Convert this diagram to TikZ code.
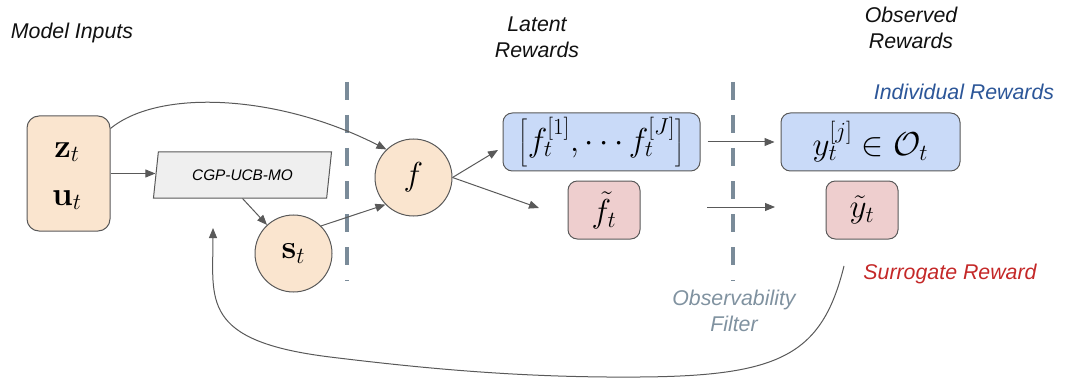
\documentclass[tikz,border=0pt]{standalone}
\usepackage[no-math]{fontspec}
\newfontfamily\arialfont{Liberation Sans}
\usetikzlibrary{arrows.meta,shapes.geometric}

\tikzset{
  boxline/.style={draw={rgb, 255:red, 89; green, 89; blue, 89 }, line width=0.75pt},
  inputbox/.style={boxline, fill={rgb, 255:red, 250; green, 229; blue, 207 }, rounded corners=9pt, minimum width=62.25pt, minimum height=86.25pt},
  vecbox/.style={boxline, fill={rgb, 255:red, 201; green, 218; blue, 248 }, rounded corners=7pt, minimum height=43.5pt, inner sep=0pt},
  tildebox/.style={boxline, fill={rgb, 255:red, 238; green, 206; blue, 206 }, rounded corners=7pt, minimum width=54pt, minimum height=43.5pt, inner sep=0pt},
  statecircle/.style={boxline, circle, fill={rgb, 255:red, 250; green, 229; blue, 207 }, minimum size=57.75pt, inner sep=0pt},
  policybox/.style={boxline, fill={rgb, 255:red, 239; green, 239; blue, 239 }, trapezium, trapezium left angle=75, trapezium right angle=105, trapezium stretches=true, minimum width=134pt, minimum height=34.5pt, inner sep=0pt, font=\arialfont\itshape\fontsize{11.5}{14}\selectfont},
  flow/.style={draw={rgb, 255:red, 89; green, 89; blue, 89 }, line width=0.75pt, -{Triangle[length=7.5pt,width=6pt]}},
  filterline/.style={draw={rgb, 255:red, 122; green, 139; blue, 153 }, line width=3pt, dash pattern=on 13.5pt off 11.25pt},
  headtext/.style={font=\arialfont\itshape\fontsize{16}{19.5}\selectfont, align=center, text={rgb, 255:red, 17; green, 17; blue, 17 }},
  mathtext/.style={font=\fontsize{25}{30}\selectfont}
}

\begin{document}
\begin{tikzpicture}[x=0.75pt,y=0.75pt,yscale=-1,xscale=1]
\useasboundingbox (0,0) rectangle (1065,378);

%Column titles
\node[headtext, anchor=base] (inputslabel) at (72,39) {Model Inputs};
\node[headtext] (latentlabel) at (537,37) {Latent\\Rewards};
\node[headtext] (observedlabel) at (911,28) {Observed\\Rewards};
\node[headtext, anchor=base, text={rgb, 255:red, 44; green, 86; blue, 152 }] (indivlabel) at (964,99) {Individual Rewards};
\node[headtext, anchor=base, text={rgb, 255:red, 196; green, 40; blue, 40 }] (surrlabel) at (950,279) {Surrogate Reward};
\node[headtext, text={rgb, 255:red, 128; green, 146; blue, 160 }] (filterlabel) at (734,311) {Observability\\Filter};

%Dashed separators
\draw[filterline] (347,82) -- (347,281);
\draw[filterline] (733,82) -- (733,281);

%Shape: Rounded Rect (inputs)
\node[inputbox] (inputs) at (68.5,173.5) {};
\node[mathtext, anchor=base] (zt) at (67,157) {$\mathbf{z}_t$};
\node[mathtext, anchor=base] (ut) at (67,205) {$\mathbf{u}_t$};

%Shape: Parallelogram
\node[policybox] (cgp) at (242.5,175) {CGP-UCB-MO};

%Shape: Circles
\node[statecircle, mathtext] (st) at (293.5,253.5) {$\mathbf{s}_t$};
\node[statecircle, mathtext] (f) at (413.5,177.5) {$f$};

%Shape: Reward boxes
\node[vecbox, mathtext, minimum width=147.75pt] (latentvec) at (601.5,142) {$\left[f_t^{[1]}, \cdots f_t^{[J]}\right]$};
\node[tildebox, mathtext] (latenttilde) at (604,210) {$\tilde{f}_t$};
\node[vecbox, mathtext, minimum width=134.25pt] (obsvec) at (870.5,142) {$y_t^{[j]} \in \mathcal{O}_t$};
\node[tildebox, mathtext] (obstilde) at (862,210) {$\tilde{y}_t$};

%Free ends
\coordinate (vecin) at (498,150);
\coordinate (tildein) at (539,208);
\coordinate (tildeout) at (707,207);
\coordinate (tildeobs) at (775,207);
\coordinate (fbstart) at (844,266);
\coordinate (fbend) at (213,228);

%Straight Lines
\draw[flow] (inputs.east) -- (inputs.east -| cgp.west);
\draw[flow] (cgp.south) -- (st);
\draw[flow] (st.45) -- (f.224);
\draw[flow] (f.east) -- (vecin);
\draw[flow] (f.east) -- (tildein);
\draw[flow, shorten <=5.25pt, shorten >=4.5pt] (latentvec.east) -- (obsvec.west);
\draw[flow] (tildeout) -- (tildeobs);

%Curve Lines
\draw[flow] (inputs.47.6) .. controls (160,88) and (280,95) .. (f.134);
\draw[flow] (fbstart) .. controls (822,355) and (780,376) .. (640,377) .. controls (520,378) and (420,368) .. (330,357) .. controls (200,341) and (213,300) .. (fbend);

\end{tikzpicture}
\end{document}
